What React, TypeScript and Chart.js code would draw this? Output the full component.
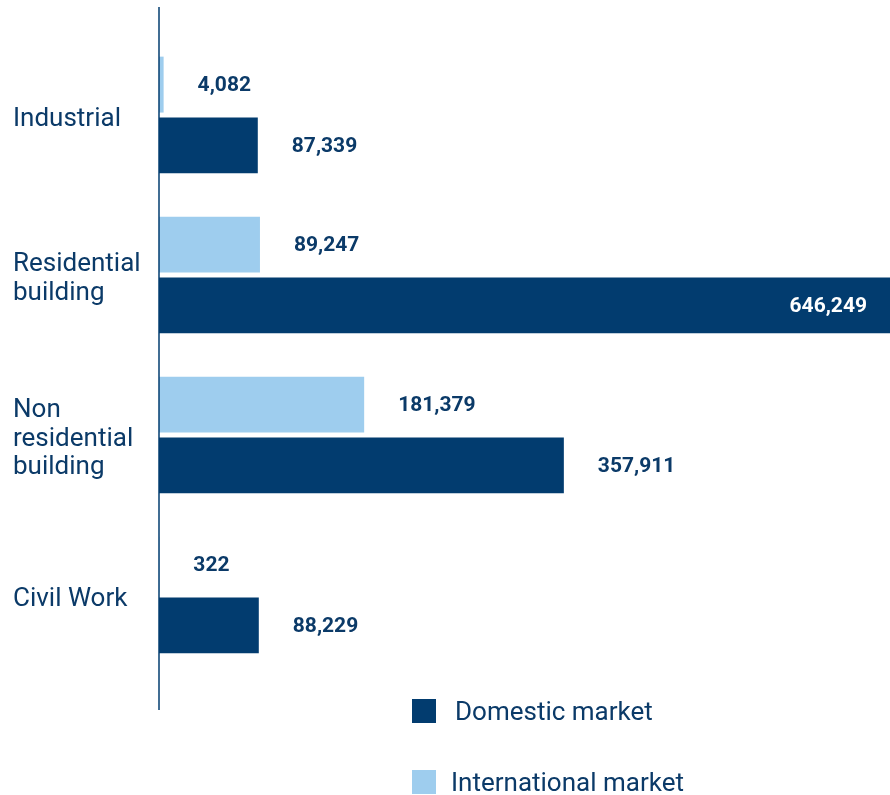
import React, { useEffect, useRef } from "react";
import { Chart, registerables } from "chart.js";

Chart.register(...registerables);

const categories: string[][] = [
  ["Industrial"],
  ["Residential", "building"],
  ["Non", "residential", "building"],
  ["Civil Work"],
];
const internationalValues = [4082, 89247, 181379, 322];
const domesticValues = [87339, 646249, 357911, 88229];
const seriesNames = ["International market", "Domestic market"];

const DARK = "#023c6f";
const LIGHT = "#9ecdee";
const TEXT = "#0b3a68";
const FONT = "Roboto, 'Noto Sans', sans-serif";

const fmt = (v: number) => v.toLocaleString("en-US");

const overlayPlugin = {
  id: "overlay",
  afterDatasetsDraw(chart: any) {
    const { ctx, chartArea, scales } = chart;
    const x0 = scales.x.getPixelForValue(0);
    ctx.save();
    // axis line
    ctx.strokeStyle = DARK;
    ctx.lineWidth = 1.5;
    ctx.beginPath();
    ctx.moveTo(x0, chartArea.top - 28);
    ctx.lineTo(x0, chartArea.bottom + 35);
    ctx.stroke();
    // value labels
    const maxVal = Math.max(...domesticValues, ...internationalValues);
    ctx.font = `bold 21px ${FONT}`;
    ctx.textBaseline = "middle";
    chart.data.datasets.forEach((ds: any, di: number) => {
      const meta = chart.getDatasetMeta(di);
      meta.data.forEach((bar: any, i: number) => {
        const v = ds.data[i];
        if (v === maxVal) {
          ctx.fillStyle = "#ffffff";
          ctx.textAlign = "right";
          ctx.fillText(fmt(v), bar.x - 23, bar.y + 1);
        } else {
          ctx.fillStyle = TEXT;
          ctx.textAlign = "left";
          ctx.fillText(fmt(v), bar.x + 34, bar.y + 1);
        }
      });
    });
    ctx.restore();
  },
};

function Legend() {
  const row = (color: string, label: string, top: number, textLeft: number) => (
    <div style={{ position: "absolute", left: 0, top, height: 24, width: 890 }}>
      <div style={{ position: "absolute", left: 412, top: 0, width: 24, height: 24, background: color }} />
      <div
        style={{
          position: "absolute",
          left: textLeft,
          top: -4,
          lineHeight: "32px",
          fontFamily: FONT,
          fontSize: 26,
          color: TEXT,
          whiteSpace: "nowrap",
        }}
      >
        {label}
      </div>
    </div>
  );
  return (
    <>
      {row(DARK, seriesNames[1], 699, 455)}
      {row(LIGHT, seriesNames[0], 770, 451)}
    </>
  );
}

export default function App() {
  const ref = useRef<HTMLCanvasElement>(null);
  useEffect(() => {
    if (!ref.current) return;
    const chart = new Chart(ref.current, {
      type: "bar",
      data: {
        labels: categories,
        datasets: [
          {
            label: seriesNames[0],
            data: internationalValues,
            backgroundColor: LIGHT,
            categoryPercentage: 0.76,
            barPercentage: 0.92,
          },
          {
            label: seriesNames[1],
            data: domesticValues,
            backgroundColor: DARK,
            categoryPercentage: 0.76,
            barPercentage: 0.92,
          },
        ],
      },
      options: {
        indexAxis: "y",
        animation: false,
        responsive: false,
        layout: { padding: { left: 13, right: 0, top: 35, bottom: 120 } },
        plugins: { legend: { display: false }, tooltip: { enabled: false } },
        scales: {
          x: {
            min: 0,
            max: 646249,
            display: false,
            grid: { display: false },
          },
          y: {
            grid: { display: false },
            border: { display: false },
            afterFit: (scale: any) => {
              scale.width = 146;
            },
            ticks: {
              crossAlign: "far",
              color: TEXT,
              labelOffset: 4,
              font: { family: FONT, size: 26, lineHeight: 1.1 },
              padding: 0,
            },
          },
        },
      },
      plugins: [overlayPlugin],
    } as any);
    return () => chart.destroy();
  }, []);
  return (
    <div style={{ position: "absolute", left: 0, top: 0, width: 890, height: 795, background: "#fff" }}>
      <canvas ref={ref} width={890} height={795} style={{ display: "block" }} />
      <Legend />
    </div>
  );
}
